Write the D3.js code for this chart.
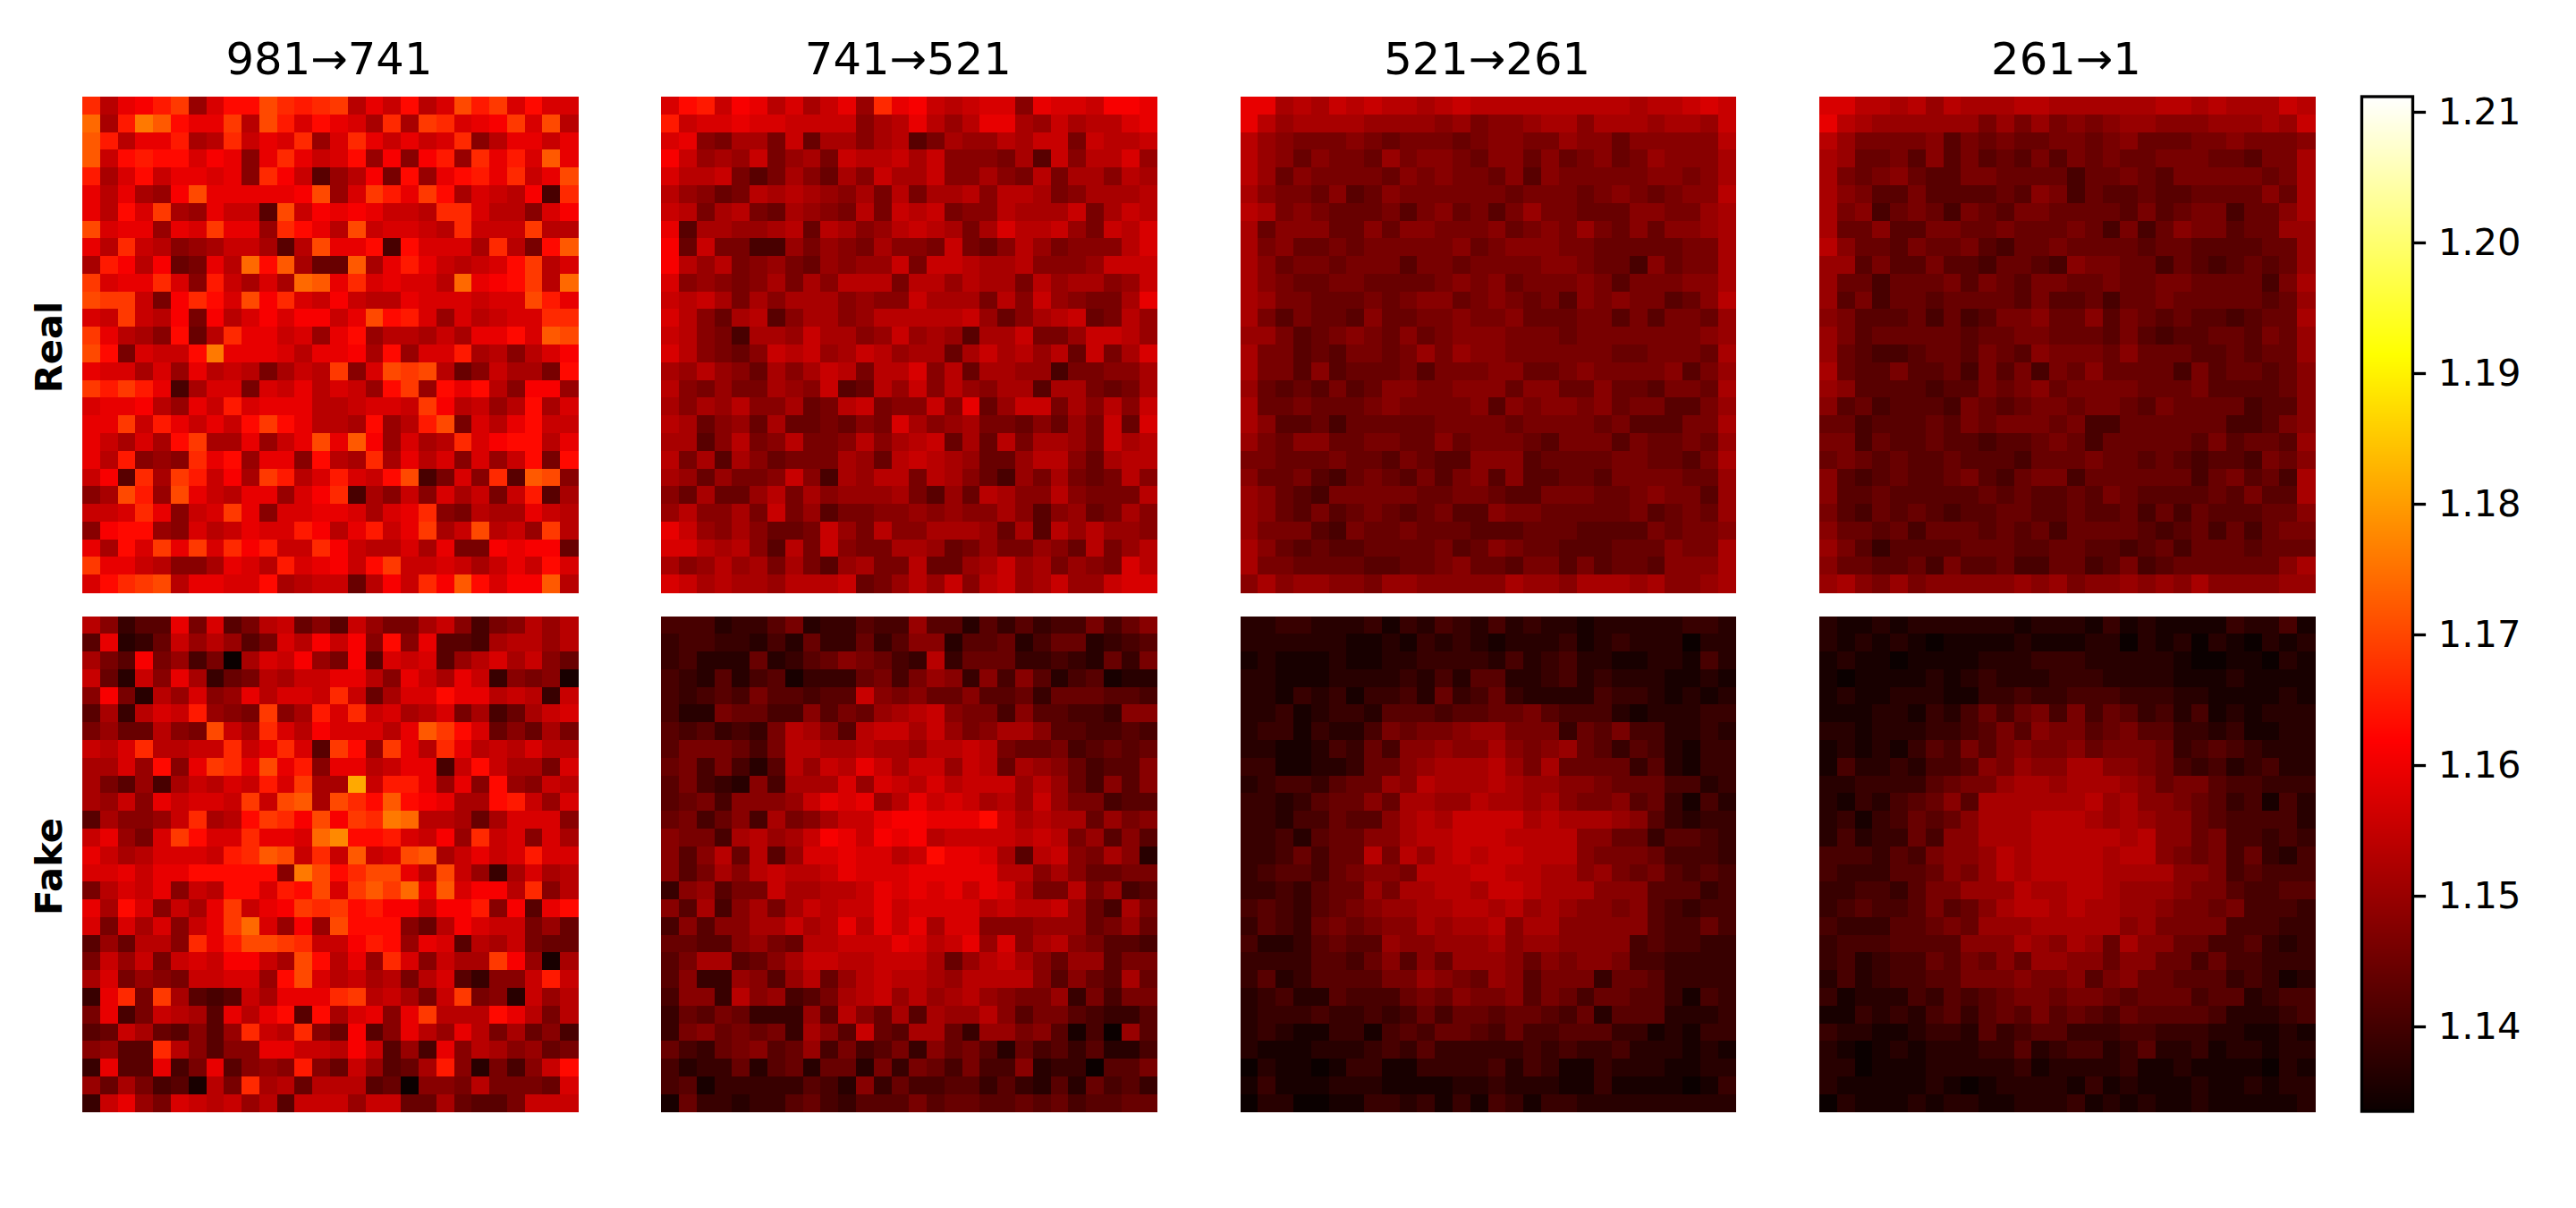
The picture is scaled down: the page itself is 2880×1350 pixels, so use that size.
<!DOCTYPE html>
<html>
<head>
<meta charset="utf-8">
<script src="https://d3js.org/d3.v7.min.js"></script>
<style>
  html, body { margin: 0; background: #fff; }
  svg { display: block; }
  text { font-family: "DejaVu Sans"; fill: #000; }
</style>
</head>
<body>
<script>
// each heatmap: one string per row, one character per cell.
// the character is a level in `levels`, darkest first.
let levels = "0123456789abcdefghijklmnopq";
let levelStart = 1.1331, levelStep = 0.00186;
let columnTitles = ["981→741", "741→521", "521→261", "261→1"];
let rowTitles = ["Real", "Fake"];
let colorTicks = [1.14, 1.15, 1.16, 1.17, 1.18, 1.19, 1.20, 1.21];

let real981 = [
"ibefhj9dggkihijbecgbdkhjdgdd",
"mahnlgeejbkhdgedaiajidefjdkb",
"lhbeehabicedi9diececdi8beece",
"lcghggdfe8eiecdg9f8fh9iehdle",
"hadgceede8ifc59bf7g9egheicek",
"ebea9fkeeeeefk9djhejgadcbf4i",
"ebgdja9ecc5kcfefeccbiidbb8df",
"kdee9edjee9igebkcddcbicccjbb",
"ebicb89acca5bkeeg4gdddaib7gl",
"ahfbf67ebmgla66laehecbcdgjbd",
"jdeeid8hcadamleideddbmefgjbm",
"kjjc7figdkfidcfcbbedddcddkhe",
"dcjcbf7fbdfdffcekghd9dbcddii",
"jeba8g6bieecd9eg9bbacaeegdlk",
"kg7dccgneeedbeefag9ddhab8bdf",
"eddad9ebcb7acbj8dkjkb68caa7g",
"jhjhe4add7dcebdc9gj9gegb8ff9",
"deefb9echdeeebbcddcjfbc9bgad",
"eejchececgjgebbag9bhk7dbegcc",
"ecadagjaae9cekelf9dabidfggbe",
"ebh898ieg9ee8gbaiaebd8d9cg7g",
"cf5iajhcfajhbdhdcgk47d8i5lk8",
"8akh9kecbee9dfi4a8c8dac7ch5a",
"ccdie8cdje8ddeedadei87baaecb",
"8fgg98dbceddhfbehcejackbc9jb",
"eagdjejdifhccifcbbdae77feff6",
"jeecb88aedbhdefcgjccdcacecgd",
"dgijkbeeddgabcc6bfciflgdfflb"
];
let fake981 = [
"b8355e7d57bc685c977ac8478b9b",
"5e236c9b957dbfcf8g8e554abb9b",
"a75f79470adcf97f5dcd59bdac86",
"c62c8ea367bacceeb8ecaec38781",
"8f72b9d89ebddcic6addgeebcb3c",
"5a3bdch987j8ahdicdabd7a46acd",
"7966b87kcaidbfdddbeljgd686a7",
"cbdibbcciceid5jg9jebiebcbdbb",
"aad9g8ejiekeh8eebcee4cgcaa7d",
"a7594acbdchdjaaqchhe9e8g98cb",
"a9c8ecddcjcklakiglgfeaaghc9d",
"5a889ciabgjifkfjinmbba6addd8",
"ce97djgddieedmogghdcf9icd8da",
"ecabdddchilkciclcdklacecdhdd",
"ddeceeggggg8nkgikkebkc93adab",
"7bdce8cbggdhgkdjljmeldffbi8b",
"eagd8caejcefjijghffcffh8f5eg",
"d7dad8cejmd9f9kggg86bfdcc796",
"596bb8iehkkjiccfhg9ed5bac766",
"7c9c7cdcffcakgbe9id8caajf91a",
"ad7987ccdd9gkdbcab7bd5388chc",
"3ei7ja545caeeeijbca7cj782c9b",
"7e47cba5ebeg5gade8ejbbbgeb7b",
"56ca65859icbi86f58eb9eb7a684",
"8955ib8588eeccbfc594e8ba8967",
"3e55e47e5898h86c956ah82748cg",
"96a7451b7iab6bbb560887b7776d",
"3ce97dcbc9b5ccc9cc66a6557ccc"
];
let real741 = [
"dghcfebdace9iefcbcdd8eddcffe",
"hcddeddcccc8abeb9beea9cabbde",
"de87aa7c6aa8ab57a99bacc7cbbc",
"fc9a9c79a7cbbcac8887a5c8bbd9",
"dbbc757a86a8caac88a87b7aa8ba",
"b9867baba98a7b7aab8bba78aaab",
"cb7ab76a987b7cbc788baaac7acb",
"e5aa99ab6ba89bcba7adbbc97cbd",
"f6c774497987a887c768b97888bd",
"fb9b789769899c7ccbaab8889ccc",
"d89878a7a8bbb7bb9baa7b9aa89c",
"cbca7a8aaa8988caaa7b8c9877ae",
"db86ab58aa89bbbbbc968abc67b9",
"cb874aa9caa89c9a95aac779ccb9",
"db8768cbc9acb9aa6acab9b6c7ad",
"a9b986a8acb7bbd8b6aa9947788a",
"b87977a98c56b9c8b98aa5aa767a",
"a8a9b88a67bc788c8e69cc7a8b8c",
"ba6896a667687da89a7768697c6d",
"aa58b78b778b8abc6a6b7aa97cab",
"b7a5a86777a96bcba9669bb86abb",
"a969778c84a9bb7ba86497a767b8",
"86a669b7a8999a7596ba88b8777b",
"9b88a7c795778898988a858967a8",
"ec98a8667c97b88aaa96a5b9b998",
"ddbab85b7c877aa967977986b79b",
"a89b9a7a759a77b669ac9a7987db",
"dcabaa9bbbc679b9c8bc9ac99cdd"
];
let fake741 = [
"4442335723354495525353447468",
"3443324263363588255624662345",
"342226235687643b366633432637",
"4325245133367479838485245122",
"43454755455c8786685563666554",
"4227664485769abc877485544388",
"5453437ba85bccac978aa8554454",
"5777647bbaabaa9bbcb766745656",
"6747425b9cbecacc9cb6a9864558",
"5743284aaad9dcbdbccc9b964858",
"56748889cede9becdcab9c977455",
"674684a78acceffeeegcabaa6978",
"8774ab9acfecfefbccccbcb79585",
"858b6b59ddeddbcgeeda5bc87a82",
"857a8bcbbcedddeeeeebb8a86677",
"389577caabbcededeceda77b7945",
"85a48a7acbccecddddbcbbc964a7",
"48588aacabebeceadd8889996796",
"66558976bbcccedbce9d8ab87554",
"57aa568accbbccca69bca8699577",
"58339859b69bcbba9bbbb85865a6",
"4883b89457abc9b9ab9877937477",
"3657633395b86a5a99b857754335",
"37867673a85c65aa639978514095",
"6436785694745738675264535224",
"4233625626627376474482330557",
"4513333354283644553532526453",
"1633233564355575665565645566"
];
let real521 = [
"eeabacbcbbabcbbbbbbbbbabbcdc",
"eb9aaaa9999897889aa8aaa9aa9c",
"b98777876777678877988688888b",
"b98687769788768868678679888a",
"b96877776878776858777778878a",
"a87768568777777677767876788b",
"ba7876667578675797766688779a",
"a68886686887778678797686889a",
"a78667677777867888776666677a",
"a86776777577677778876648677a",
"a87667766667878677787577788a",
"a97766676788678767587877568b",
"a757665866778778666775757769",
"9975678768678887776777777789",
"a77565776797988777777667776a",
"a77585666757778866787777 8579",
"965657568877888688668665776a",
"a667666787777858788786775579",
"a85564666667777677776755577a",
"9768866776686777657775766769",
"776667665765588856666776657a",
"8667546765757858556657777669",
"9865477777667765577766787759",
"9865756765675587766666756769",
"9777547667666555666555576778",
"a86565566667568766555666877a",
"a77666655667866577575665888a",
"8a8998879988888a998aaa9a889a"
].map((row) => row.split(" ").join(""));
let fake521 = [
"2233222313243242322122222332",
"2222221121323212223123222022",
"1211121122333324234221122142",
"2211122223242552234232221121",
"2213231334263463222243321212",
"2231233255545566754442122233",
"2331322476778997773657442232",
"22112436488988a8789653542133",
"33112236689aaab97a6666352133",
"2344356698baaaba998876664423",
"332356686aa99baa9a8778563142",
"332446558abaccccabaaa9853233",
"334256688abbcccbbbb886635543",
"3346466b7b9bcbccbbb877764443",
"3455467887bbbccbbaa897675454",
"334356697aabbaccbaaa88855534",
"4543567899aabbab9a9887854344",
"3543676788a9aab8aa8888854464",
"42235655988999a8998888454433",
"3333554685869998687887443333",
"3523555577987698577736653333",
"2342254446768778576466553143",
"2333433434646656654625552223",
"2321133145466546445553312133",
"2111222343533333434334222121",
"0211013311333342431132221122",
"1311122211112232221131111013",
"0220011332313143133222222222"
];
let real261 = [
"ddbbab9baaabbaaaaaabbabaaacb",
"eba9999997979787899888999a9c",
"b977778576766776786667787778",
"a96675857565757676677766577a",
"a76786557766664667657777767a",
"a87557555565874655655666686a",
"a78467647657766665756774668a",
"a668557766766676474687756699",
"b866576675466766665665555669",
"9957557554665487766465456569",
"966466675765776676677666647a",
"9574665666657556466766666569",
"875556464577866857656554566a",
"9756666656677666575455665769",
"9654456657658777686665565669",
"a655755647574768666647566568",
"9855554557678677776667555568",
"8564555476567767765766664558",
"6645556576777674466666644578",
"7746556554556764666665756659",
"6765655655546667665654554768",
"854565567546774666666467564a",
"855655555656556576555565755a",
"7546565455665565564646555668",
"8665646665656466665456464677",
"9753555566655665545646665666",
"866556475564466457456666668a",
"9a8797888889897889898a888899"
];
let fake261 = [
"2112122222212221312111132241",
"2121210111121112202120210212",
"1211011112223332222210011021",
"1011112123222333222211121111",
"1211222113343344433322111121",
"1112213246467474653424121222",
"2212223345758775675533231122",
"1212135475787786777634543222",
"14223244587988aa887643423422",
"22333356779aa9aaa98677544333",
"213245685aaaaaab9a8876534142",
"231346568aaabbba9a9886544442",
"242336488aaabbbbbab886744343",
"4443547889babbbbabb876746324",
"4333556879babbbbaaaa88745444",
"33443577999baabba99987754455",
"3454457568abbabaa99877674443",
"433355676999aaaaa89777744433",
"34445555888a98a96a8866445323",
"3423446576869988688664644333",
"2423445577787785786655534312",
"3122243545677677656664552344",
"1132324535657565465555422234",
"3221123325345533344333221121",
"2101212223352344235223122122",
"2201112222231222231121111021",
"2111112101222213121112112122",
"0211121221122231212112111112"
];
let heatmaps = [
  [real981, real741, real521, real261],
  [fake981, fake741, fake521, fake261]
];

let panelLeft = [92, 739.3, 1386.6, 2034],
    panelTop = [108, 688.5],
    panelSize = 554,
    barX = 2640.5, barWidth = 57, barTop = 108, barBottom = 1242;

let svg = d3.select("body").append("svg")
  .attr("width", 2880)
  .attr("height", 1350);

// the matplotlib 'hot' ramp over the colorbar's range
let barY = d3.scaleLinear().domain([1.1335, 1.21116]).range([barBottom, barTop]);
let [vmin, vmax] = barY.domain();
let hot = d3.scaleLinear()
  .domain([0, 0.365, 0.746, 1].map((t) => vmin + t * (vmax - vmin)))
  .range(["#0b0000", "#ff0000", "#ffff00", "#ffffff"])
  .clamp(true);

function cellValue(ch) {
  return levelStart + levels.indexOf(ch) * levelStep;
}

let cellIndex = d3.range(28);
let cellX = d3.scaleBand().domain(cellIndex).range([0, panelSize]);
let cellY = d3.scaleBand().domain(cellIndex).range([0, panelSize]);

heatmaps.forEach((rowMaps, r) => {
  rowMaps.forEach((rows, c) => {
    let g = svg.append("g")
      .attr("transform", "translate(" + panelLeft[c] + "," + panelTop[r] + ")");
    let cells = [];
    rows.forEach((row, i) => {
      row.split("").forEach((ch, j) => cells.push({ i: i, j: j, v: cellValue(ch) }));
    });
    g.selectAll("rect").data(cells).enter().append("rect")
      .attr("x", (d) => cellX(d.j))
      .attr("y", (d) => cellY(d.i))
      .attr("width", cellX.bandwidth() + 0.5)
      .attr("height", cellY.bandwidth() + 0.5)
      .attr("fill", (d) => hot(d.v))
      .attr("shape-rendering", "crispEdges");
  });
});

// column titles
svg.selectAll(".col-title").data(columnTitles).enter().append("text")
  .attr("class", "col-title")
  .attr("x", (d, i) => panelLeft[i] + panelSize / 2 - 1)
  .attr("y", 83)
  .attr("text-anchor", "middle")
  .attr("font-size", 49.6)
  .text((d) => d);

// row labels
svg.selectAll(".row-title").data(rowTitles).enter().append("text")
  .attr("class", "row-title")
  .attr("transform", (d, i) => "translate(69," + (panelTop[i] + panelSize / 2 + 3) + ") rotate(-90)")
  .attr("text-anchor", "middle")
  .attr("font-size", 41.67)
  .attr("font-weight", "bold")
  .text((d) => d);

// colorbar
let barSteps = d3.range(barTop, barBottom);
svg.append("g").selectAll("rect").data(barSteps).enter().append("rect")
  .attr("x", barX)
  .attr("y", (d) => d)
  .attr("width", barWidth)
  .attr("height", 1.5)
  .attr("fill", (d) => hot(barY.invert(d + 0.5)))
  .attr("shape-rendering", "crispEdges");

svg.append("rect")
  .attr("x", barX)
  .attr("y", barTop)
  .attr("width", barWidth)
  .attr("height", barBottom - barTop)
  .attr("fill", "none")
  .attr("stroke", "#000")
  .attr("stroke-width", 3.33);

let barAxis = svg.append("g")
  .attr("transform", "translate(" + (barX + barWidth) + ",0)")
  .call(d3.axisRight(barY)
    .tickValues(colorTicks)
    .tickFormat(d3.format(".2f"))
    .tickSize(14.6)
    .tickPadding(13.6));
barAxis.select(".domain").remove();
barAxis.selectAll("line").attr("stroke", "#000").attr("stroke-width", 3.33);
barAxis.selectAll("text").attr("font-size", 41.67).attr("font-family", "DejaVu Sans");
</script>
</body>
</html>
